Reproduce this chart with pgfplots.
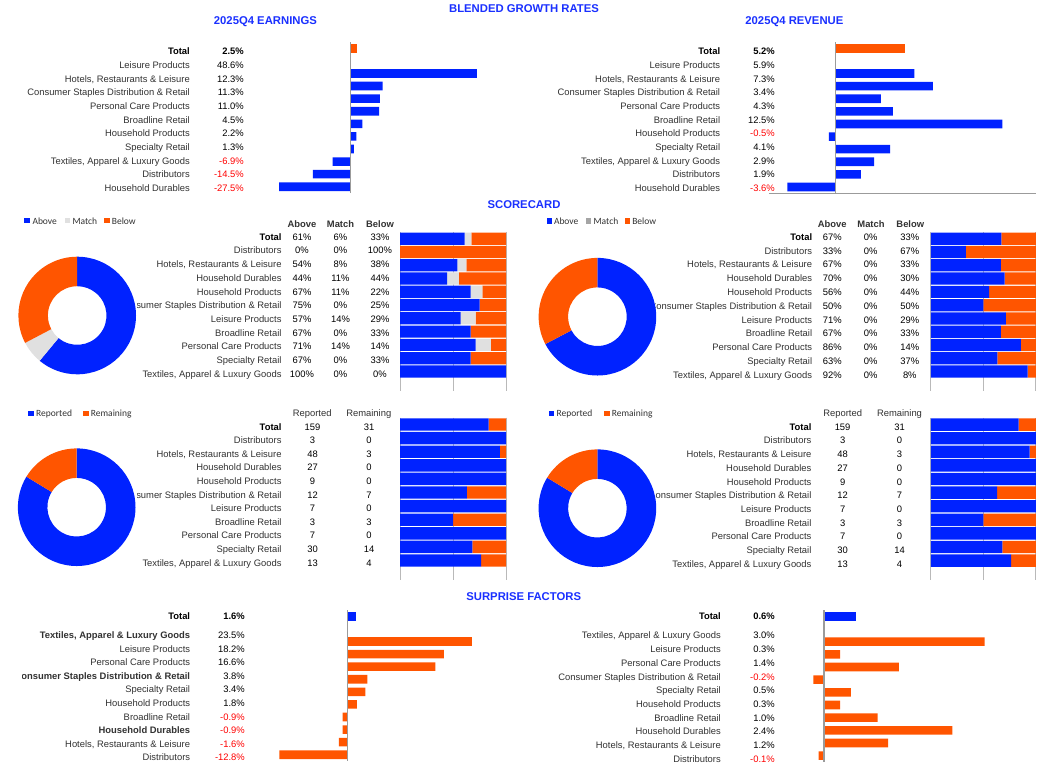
\documentclass[border=0pt]{standalone}
\usepackage{pgfplots}
\pgfplotsset{compat=1.18}
\usepackage{pgfplotstable}
\usepackage{fontspec}
\setmainfont{Liberation Sans}
\newfontfamily\legendfont{Carlito}

\definecolor{barblue}{RGB}{0,34,255}
\definecolor{barorange}{RGB}{255,85,0}
\definecolor{matchlight}{RGB}{224,224,224}
\definecolor{matchdark}{RGB}{165,165,165}
\definecolor{zerogray}{RGB}{155,155,155}
\definecolor{gridgray}{RGB}{185,185,185}
\definecolor{titleblue}{RGB}{26,48,255}
\definecolor{labelgray}{RGB}{50,50,50}
\definecolor{negred}{RGB}{255,0,0}

\newcommand\lbl{\fontsize{9.4}{11}\selectfont}
\newcommand\ttlfont{\fontsize{11.3}{13}\selectfont\bfseries}
\newcommand\legfont{\legendfont\fontsize{9.5}{11}\selectfont}

% blended growth rates (%): Total, gap, then the ten industries
\pgfplotstableread{
pos eps rev
0  2.5   5.2
2  48.6  5.9
3  12.3  7.3
4  11.3  3.4
5  11.0  4.3
6  4.5   12.5
7  2.2   -0.5
8  1.3   4.1
9  -6.9  2.9
10 -14.5 1.9
11 -27.5 -3.6
}\growth

% surprise factors (%)
\pgfplotstableread{
pos eps rev
0  1.6   0.6
2  23.5  3.0
3  18.2  0.3
4  16.6  1.4
5  3.8   -0.2
6  3.4   0.5
7  1.8   0.3
8  -0.9  1.0
9  -0.9  2.4
10 -1.6  1.2
11 -12.8 -0.1
}\surprise

% earnings scorecard, share of reported companies (%)
\pgfplotstableread{
pos above match below
0  61.01 6.29  32.70
1  0     0     100
2  54.17 8.33  37.50
3  44.44 11.11 44.45
4  66.67 11.11 22.22
5  75    0     25
6  57.14 14.29 28.57
7  66.67 0     33.33
8  71.43 14.29 14.28
9  66.67 0     33.33
10 100   0     0
}\scoreeps

% revenue scorecard, share of reported companies (%)
\pgfplotstableread{
pos above match below
0  67.30 0 32.70
1  33.33 0 66.67
2  66.67 0 33.33
3  70.37 0 29.63
4  55.56 0 44.44
5  50    0 50
6  71.43 0 28.57
7  66.67 0 33.33
8  85.71 0 14.29
9  63.33 0 36.67
10 92.31 0 7.69
}\scorerev

% reporting progress, number of companies
\pgfplotstableread{
pos reported remaining
0  159 31
1  3   0
2  48  3
3  27  0
4  9   0
5  12  7
6  7   0
7  3   3
8  7   0
9  30  14
10 13  4
}\progress

\pgfplotsset{
  growth/.style={scale only axis, hide axis, xbar, bar shift=0pt, bar width=8.6pt,
    y dir=reverse, ymin=-0.5, ymax=11.5, anchor=north west, clip=false},
  stackbars/.style={scale only axis, xbar stacked, bar width=12.2pt, y dir=reverse,
    xmin=0, xmax=100, ymin=-0.5, ymax=11.45,
    xtick={0,50,100}, xticklabels={}, x tick label style={opacity=0}, ytick=\empty,
    xmajorgrids, grid style={gridgray, line width=0.8pt},
    axis line style={draw=none}, major tick length=0pt, anchor=north west, clip=false},
  donut/.style={scale only axis, hide axis, width=117.6pt, height=117.6pt,
    xmin=-1, xmax=1, ymin=-1, ymax=1, anchor=center, clip=false},
}

% ring segment between two angles, centred on the axis origin
\newcommand\donutslice[3]{%
  \fill[#3] ([shift={(axis cs:0,0)}]#1:58.8pt) arc[start angle=#1, end angle=#2, radius=58.8pt]
    -- ([shift={(axis cs:0,0)}]#2:29.3pt) arc[start angle=#2, end angle=#1, radius=29.3pt] -- cycle;}

\begin{document}
\begin{tikzpicture}[x=1pt, y=1pt,
  lab/.style={anchor=base east, inner sep=0pt, font=\lbl, text=labelgray},
  val/.style={anchor=base east, inner sep=0pt, font=\lbl, text=black},
  cval/.style={anchor=base, inner sep=0pt, font=\lbl, text=black},
  hdr/.style={anchor=base, inner sep=0pt, font=\lbl, text=labelgray},
  ttl/.style={anchor=center, inner sep=0pt, font=\ttlfont, text=titleblue},
  leg/.style={anchor=base west, inner sep=0pt, font=\legfont, text=labelgray}]
\fill[white] (0,0) rectangle (1048,-764);
\useasboundingbox (0,0) rectangle (1048,-764);

% donut angles from the Total rows
\pgfplotstablegetelem{0}{above}\of\scoreeps\pgfmathsetmacro\epsA{90-3.6*\pgfplotsretval}
\pgfplotstablegetelem{0}{match}\of\scoreeps\pgfmathsetmacro\epsM{\epsA-3.6*\pgfplotsretval}
\pgfplotstablegetelem{0}{above}\of\scorerev\pgfmathsetmacro\revA{90-3.6*\pgfplotsretval}
\pgfplotstablegetelem{0}{reported}\of\progress\let\nrep\pgfplotsretval
\pgfplotstablegetelem{0}{remaining}\of\progress\pgfmathsetmacro\repA{90-360*(\nrep/(\nrep+\pgfplotsretval))}

% ---------- titles ----------
\node[ttl] at (524,-8.5) {BLENDED GROWTH RATES};
\node[ttl] at (265.4,-22) {2025Q4 EARNINGS};
\node[ttl] at (794.4,-22) {2025Q4 REVENUE};
\node[ttl] at (524,-204.3) {SCORECARD};
\node[ttl] at (523.7,-596.7) {SURPRISE FACTORS};

% ---------- blended growth: tables ----------
\node[lab, font=\lbl\bfseries, text=black] at (190,-54.6) {Total};
\node[val, font=\lbl\bfseries] at (244,-54.6) {2.5\%};
\foreach \nm/\vl/\cl [count=\i] in {
  Leisure Products/48.6/black,
  {Hotels, Restaurants \& Leisure}/12.3/black,
  Consumer Staples Distribution \& Retail/11.3/black,
  Personal Care Products/11.0/black,
  Broadline Retail/4.5/black,
  Household Products/2.2/black,
  Specialty Retail/1.3/black,
  {Textiles, Apparel \& Luxury Goods}/-6.9/negred,
  Distributors/-14.5/negred,
  Household Durables/-27.5/negred}
{\pgfmathsetmacro\yy{-54.6-13.7*\i}
 \node[lab] at (190,\yy) {\nm};
 \node[val, text=\cl] at (244,\yy) {\vl\%};}

\node[lab, font=\lbl\bfseries, text=black] at (720.3,-54.6) {Total};
\node[val, font=\lbl\bfseries] at (774.9,-54.6) {5.2\%};
\foreach \nm/\vl/\cl [count=\i] in {
  Leisure Products/5.9/black,
  {Hotels, Restaurants \& Leisure}/7.3/black,
  Consumer Staples Distribution \& Retail/3.4/black,
  Personal Care Products/4.3/black,
  Broadline Retail/12.5/black,
  Household Products/-0.5/negred,
  Specialty Retail/4.1/black,
  {Textiles, Apparel \& Luxury Goods}/2.9/black,
  Distributors/1.9/black,
  Household Durables/-3.6/negred}
{\pgfmathsetmacro\yy{-54.6-13.7*\i}
 \node[lab] at (720.3,\yy) {\nm};
 \node[val, text=\cl] at (774.9,\yy) {\vl\%};}

% ---------- blended growth: bars ----------
\begin{axis}[growth, at={(272.7pt,-42pt)}, width=207.7pt, height=151pt, xmin=-30, xmax=50]
  \addplot[fill=barorange, draw=none, restrict y to domain=0:0] table[x=eps, y=pos]{\growth};
  \addplot[fill=barblue, draw=none, restrict y to domain=1:12] table[x=eps, y=pos]{\growth};
  \draw[zerogray, line width=1.3pt] (axis cs:0,-0.5) -- (axis cs:0,11.5);
\end{axis}
\begin{axis}[growth, at={(768.75pt,-42pt)}, width=267pt, height=151.3pt, xmin=-5, xmax=15]
  \addplot[fill=barorange, draw=none, restrict y to domain=0:0] table[x=rev, y=pos]{\growth};
  \addplot[fill=barblue, draw=none, restrict y to domain=1:12] table[x=rev, y=pos]{\growth};
  \draw[zerogray, line width=1.3pt] (axis cs:0,-0.5) -- (axis cs:0,11.5);
  \draw[zerogray, line width=1pt] (axis cs:-5,11.5) -- (axis cs:15,11.5);
\end{axis}

% ---------- scorecard: tables ----------
\node[hdr, font=\lbl\bfseries] at (302,-227.4) {Above};
\node[hdr, font=\lbl\bfseries] at (340.5,-227.4) {Match};
\node[hdr, font=\lbl\bfseries] at (380,-227.4) {Below};
\node[lab, font=\lbl\bfseries, text=black] at (281.7,-240.1) {Total};
\node[cval] at (302,-240.1) {61\%};
\node[cval] at (340.5,-240.1) {6\%};
\node[cval] at (380,-240.1) {33\%};
\foreach \nm/\va/\vm/\vb [count=\i] in {
  Distributors/0/0/100,
  {Hotels, Restaurants \& Leisure}/54/8/38,
  Household Durables/44/11/44,
  Household Products/67/11/22,
  Consumer Staples Distribution \& Retail/75/0/25,
  Leisure Products/57/14/29,
  Broadline Retail/67/0/33,
  Personal Care Products/71/14/14,
  Specialty Retail/67/0/33,
  {Textiles, Apparel \& Luxury Goods}/100/0/0}
{\pgfmathsetmacro\yy{-240.1-13.73*\i}
 \node[lab] at (281.7,\yy) {\nm};
 \node[cval] at (302,\yy) {\va\%};
 \node[cval] at (340.5,\yy) {\vm\%};
 \node[cval] at (380,\yy) {\vb\%};}

\node[hdr, font=\lbl\bfseries] at (832.3,-227.7) {Above};
\node[hdr, font=\lbl\bfseries] at (871,-227.7) {Match};
\node[hdr, font=\lbl\bfseries] at (910.3,-227.7) {Below};
\node[lab, font=\lbl\bfseries, text=black] at (812.3,-240.3) {Total};
\node[cval] at (832.3,-240.3) {67\%};
\node[cval] at (870.7,-240.3) {0\%};
\node[cval] at (909.8,-240.3) {33\%};
\foreach \nm/\va/\vm/\vb [count=\i] in {
  Distributors/33/0/67,
  {Hotels, Restaurants \& Leisure}/67/0/33,
  Household Durables/70/0/30,
  Household Products/56/0/44,
  Consumer Staples Distribution \& Retail/50/0/50,
  Leisure Products/71/0/29,
  Broadline Retail/67/0/33,
  Personal Care Products/86/0/14,
  Specialty Retail/63/0/37,
  {Textiles, Apparel \& Luxury Goods}/92/0/8}
{\pgfmathsetmacro\yy{-240.3-13.8*\i}
 \node[lab] at (812.3,\yy) {\nm};
 \node[cval] at (832.3,\yy) {\va\%};
 \node[cval] at (870.7,\yy) {\vm\%};
 \node[cval] at (909.8,\yy) {\vb\%};}

% ---------- reporting progress: tables ----------
\node[hdr] at (312.2,-416.7) {Reported};
\node[hdr] at (368.8,-416.7) {Remaining};
\node[hdr] at (842.7,-416.9) {Reported};
\node[hdr] at (899.5,-416.9) {Remaining};
\foreach \xl/\xa/\xb/\ys/\yd in {281.7/312.5/369/430.1/13.6, 811.6/842.6/899.5/430.2/13.72}{
  \node[lab, font=\lbl\bfseries, text=black] at (\xl,-\ys) {Total};
  \foreach \nm/\va/\vb [count=\i from 0] in {
    {}/159/31,
    Distributors/3/0,
    {Hotels, Restaurants \& Leisure}/48/3,
    Household Durables/27/0,
    Household Products/9/0,
    Consumer Staples Distribution \& Retail/12/7,
    Leisure Products/7/0,
    Broadline Retail/3/3,
    Personal Care Products/7/0,
    Specialty Retail/30/14,
    {Textiles, Apparel \& Luxury Goods}/13/4}
  {\pgfmathsetmacro\yy{-\ys-\yd*\i}
   \node[lab] at (\xl,\yy) {\nm};
   \node[cval] at (\xa,\yy) {\va};
   \node[cval] at (\xb,\yy) {\vb};}
}

% chart areas of the donuts cover the start of the longest label
\fill[white] (100,-297) rectangle (136.7,-314);
\fill[white] (600,-298) rectangle (654.7,-315);
\fill[white] (100,-487) rectangle (136.7,-503);
\fill[white] (600,-487) rectangle (654.7,-504);

% ---------- legends ----------
\fill[barblue] (24.3,-218.1) rectangle ++(5.3,-5.3);
\node[leg] at (32.3,-224) {Above};
\fill[matchlight] (65,-218.1) rectangle ++(5.3,-5.3);
\node[leg] at (72.3,-224) {Match};
\fill[barorange] (104.3,-218.1) rectangle ++(5.3,-5.3);
\node[leg] at (111.7,-224) {Below};

\fill[barblue] (547,-218.4) rectangle ++(5.3,-5.3);
\node[leg] at (553.8,-224.3) {Above};
\fill[matchdark] (586,-218.4) rectangle ++(5.3,-5.3);
\node[leg] at (593.4,-224.3) {Match};
\fill[barorange] (625,-218.4) rectangle ++(5.3,-5.3);
\node[leg] at (632.1,-224.3) {Below};

\fill[barblue] (28.3,-410.6) rectangle ++(5.3,-5.3);
\node[leg] at (36,-416.4) {Reported};
\fill[barorange] (83.3,-410.6) rectangle ++(5.3,-5.3);
\node[leg] at (90.7,-416.4) {Remaining};

\fill[barblue] (548.6,-410.8) rectangle ++(5.3,-5.3);
\node[leg] at (556.4,-416.6) {Reported};
\fill[barorange] (604.2,-410.8) rectangle ++(5.3,-5.3);
\node[leg] at (611.6,-416.6) {Remaining};

% ---------- donuts ----------
\begin{axis}[donut, at={(77.2pt,-315.5pt)}]
  \donutslice{90}{\epsA}{barblue}
  \donutslice{\epsA}{\epsM}{matchlight}
  \donutslice{\epsM}{-270}{barorange}
\end{axis}
\begin{axis}[donut, at={(597.4pt,-316.7pt)}]
  \donutslice{90}{\revA}{barblue}
  \donutslice{\revA}{-270}{barorange}
\end{axis}
\begin{axis}[donut, at={(76.7pt,-507.2pt)}]
  \donutslice{90}{\repA}{barblue}
  \donutslice{\repA}{-270}{barorange}
\end{axis}
\begin{axis}[donut, at={(597.4pt,-508.2pt)}]
  \donutslice{90}{\repA}{barblue}
  \donutslice{\repA}{-270}{barorange}
\end{axis}

% ---------- stacked bars ----------
\begin{axis}[stackbars, at={(400pt,-232pt)}, width=106pt, height=158.7pt]
  \addplot[fill=barblue, draw=none] table[x=above, y=pos]{\scoreeps};
  \addplot[fill=matchlight, draw=none] table[x=match, y=pos]{\scoreeps};
  \addplot[fill=barorange, draw=none] table[x=below, y=pos]{\scoreeps};
\end{axis}
\begin{axis}[stackbars, at={(930.8pt,-232.1pt)}, width=105pt, height=158.7pt]
  \addplot[fill=barblue, draw=none] table[x=above, y=pos]{\scorerev};
  \addplot[fill=matchdark, draw=none] table[x=match, y=pos]{\scorerev};
  \addplot[fill=barorange, draw=none] table[x=below, y=pos]{\scorerev};
\end{axis}
\begin{axis}[stackbars, at={(400pt,-417.7pt)}, width=106pt, height=162.5pt, bar width=12.4pt]
  \addplot[fill=barblue, draw=none] table[x expr={100*\thisrow{reported}/(\thisrow{reported}+\thisrow{remaining})}, y=pos]{\progress};
  \addplot[fill=barorange, draw=none] table[x expr={100*\thisrow{remaining}/(\thisrow{reported}+\thisrow{remaining})}, y=pos]{\progress};
\end{axis}
\begin{axis}[stackbars, at={(930.8pt,-417.8pt)}, width=105pt, height=162.5pt, bar width=12.4pt]
  \addplot[fill=barblue, draw=none] table[x expr={100*\thisrow{reported}/(\thisrow{reported}+\thisrow{remaining})}, y=pos]{\progress};
  \addplot[fill=barorange, draw=none] table[x expr={100*\thisrow{remaining}/(\thisrow{reported}+\thisrow{remaining})}, y=pos]{\progress};
\end{axis}

% ---------- surprise factors: tables ----------
\node[lab, font=\lbl\bfseries, text=black] at (190.3,-619.1) {Total};
\node[val, font=\lbl\bfseries] at (245,-619.1) {1.6\%};
\foreach \nm/\vl/\cl/\fw [count=\i] in {
  {Textiles, Apparel \& Luxury Goods}/23.5/black/\bfseries,
  Leisure Products/18.2/black/\relax,
  Personal Care Products/16.6/black/\relax,
  Consumer Staples Distribution \& Retail/3.8/black/\bfseries,
  Specialty Retail/3.4/black/\relax,
  Household Products/1.8/black/\relax,
  Broadline Retail/-0.9/negred/\relax,
  Household Durables/-0.9/negred/\bfseries,
  {Hotels, Restaurants \& Leisure}/-1.6/negred/\relax,
  Distributors/-12.8/negred/\relax}
{\pgfmathsetmacro\yy{-638.5-13.6*(\i-1)}
 \node[lab] at (190.3,\yy) {\fw\nm};
 \node[val, text=\cl] at (245,\yy) {\vl\%};}
\fill[white] (0,-668) rectangle (21.5,-685);

\node[lab, font=\lbl\bfseries, text=black] at (721,-619.4) {Total};
\node[val, font=\lbl\bfseries] at (774.9,-619.4) {0.6\%};
\foreach \nm/\vl/\cl [count=\i] in {
  {Textiles, Apparel \& Luxury Goods}/3.0/black,
  Leisure Products/0.3/black,
  Personal Care Products/1.4/black,
  Consumer Staples Distribution \& Retail/-0.2/negred,
  Specialty Retail/0.5/black,
  Household Products/0.3/black,
  Broadline Retail/1.0/black,
  Household Durables/2.4/black,
  {Hotels, Restaurants \& Leisure}/1.2/black,
  Distributors/-0.1/negred}
{\pgfmathsetmacro\yy{-638.9-13.7*(\i-1)}
 \node[lab] at (721,\yy) {\nm};
 \node[val, text=\cl] at (774.9,\yy) {\vl\%};}

% ---------- surprise factors: bars ----------
\begin{axis}[growth, at={(267.8pt,-610pt)}, width=212pt, height=151pt, xmin=-15, xmax=25]
  \addplot[fill=barblue, draw=none, restrict y to domain=0:0] table[x=eps, y=pos]{\surprise};
  \addplot[fill=barorange, draw=none, restrict y to domain=1:12] table[x=eps, y=pos]{\surprise};
  \draw[zerogray, line width=1.3pt] (axis cs:0,-0.5) -- (axis cs:0,11.5);
\end{axis}
\begin{axis}[growth, at={(797.25pt,-610pt)}, width=214pt, height=152pt, xmin=-0.5, xmax=3.5]
  \addplot[fill=barblue, draw=none, restrict y to domain=0:0] table[x=rev, y=pos]{\surprise};
  \addplot[fill=barorange, draw=none, restrict y to domain=1:12] table[x=rev, y=pos]{\surprise};
  \draw[zerogray, line width=1.3pt] (axis cs:0,-0.5) -- (axis cs:0,11.5);
\end{axis}

\end{tikzpicture}
\end{document}
